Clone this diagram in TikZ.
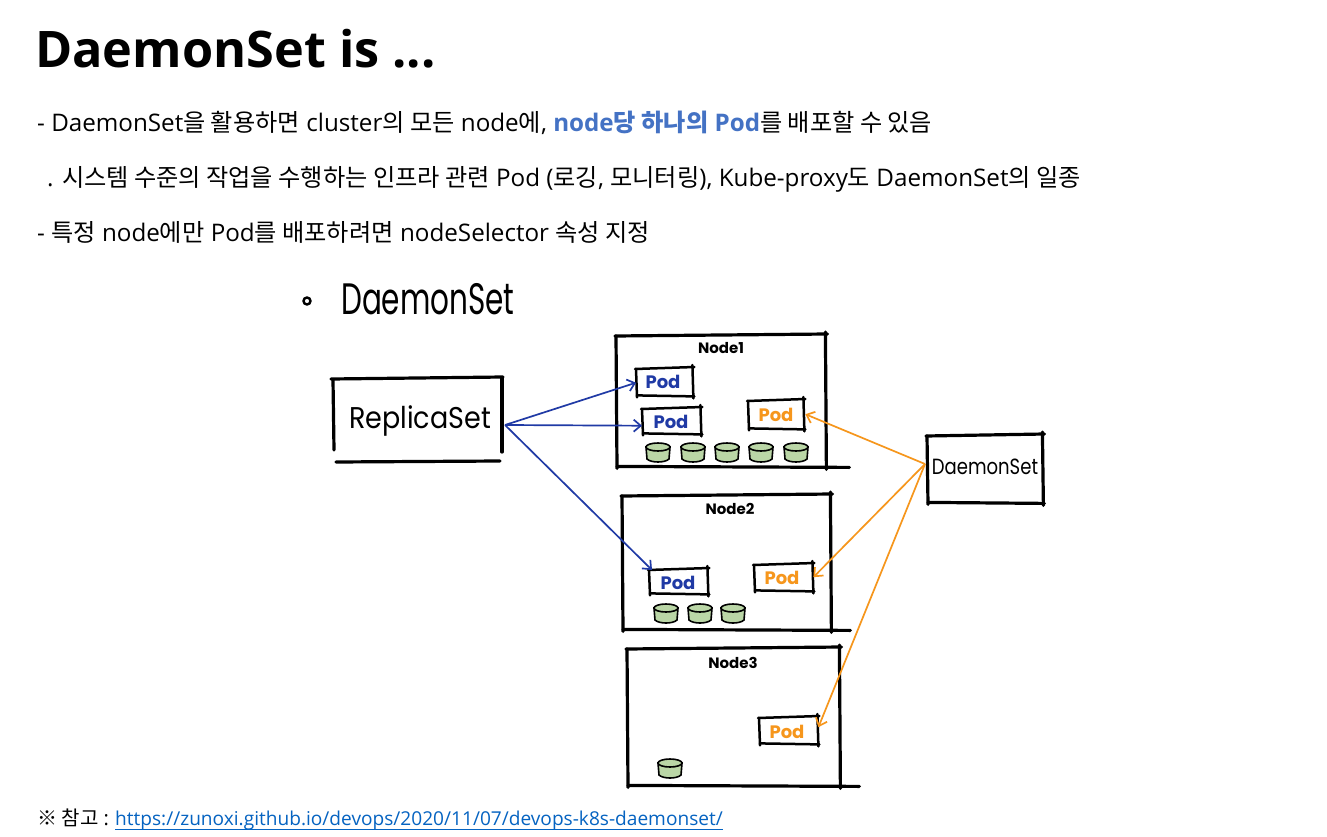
\documentclass[tikz,border=0pt]{standalone}
\usepackage{fontspec}
\setmainfont{Open Sans}
\newfontfamily\kor{Noto Sans CJK KR}
\newfontfamily\handfont{Poppins}
\usetikzlibrary{arrows.meta,calc}

\definecolor{hlblue}{RGB}{68,114,196}
\definecolor{linkblue}{RGB}{5,99,193}
\definecolor{rsblue}{RGB}{32,58,165}
\definecolor{dsorange}{RGB}{246,150,28}
\definecolor{cylgreen}{RGB}{186,214,166}

% Korean runs are set in the CJK family, Latin runs in the main family
\newcommand{\ko}[1]{{\kor #1}}
% narrow, tall lettering for the marker-style labels
\newcommand{\narrow}[2]{\scalebox{#1}[1]{#2}}

\tikzset{
  body/.style={anchor=base west, inner sep=0pt, font=\fontsize{24.2}{28}\selectfont},
  frame/.style={draw=none, inner sep=0pt, anchor=north west},
  sketch/.style={line width=3.2pt, line cap=round, black},
  podline/.style={line width=2.5pt, line cap=round, black},
  handlbl/.style={font=\handfont\fontsize{#1}{#1}\selectfont, inner sep=0pt},
  nodelbl/.style={font=\handfont\bfseries\fontsize{15}{15}\selectfont, inner sep=0pt},
  podlbl/.style={font=\handfont\bfseries\fontsize{18}{18}\selectfont, inner sep=0pt},
  rsarrow/.style={rsblue, line width=1.7pt, -{Straight Barb[length=7pt,width=12pt,line width=1.7pt]}},
  dsarrow/.style={dsorange, line width=1.7pt, -{Straight Barb[length=7pt,width=12pt,line width=1.7pt]}},
  cyl/.pic={
    \filldraw[fill=cylgreen, draw=black, line width=1.6pt]
      (-12,-5) -- (-11,7) .. controls (-7,11) and (7,11) .. (11,7) -- (12,-5) -- cycle;
    \filldraw[fill=cylgreen, draw=black, line width=1.6pt] (0,-5) ellipse [x radius=12, y radius=4];
  }
}

% a hand-drawn looking frame: four strokes with small overshoots
\newcommand{\sketchframe}[3]{%
  \draw[#2] ($(#1.north west)+(-1,1)$) -- ($(#1.north east)+(2,-1)$);
  \draw[#2] ($(#1.north east)+(0,-3)$) -- ($(#1.south east)+(1,3)$);
  \draw[#2] ($(#1.south west)+(1,0)$) -- ($(#1.south east)+(#3,1)$);
  \draw[#2] ($(#1.north west)+(0,1)$) -- ($(#1.south west)+(1,2)$);
}

\begin{document}
\begin{tikzpicture}[x=1pt,y=-1pt]
\useasboundingbox[fill=white] (0,0) rectangle (1327,837);

% heading and bullet text
\node[anchor=base west, inner sep=0pt, font=\bfseries\fontsize{50.4}{56}\selectfont] (title) at (35,68) {DaemonSet is ...};
\node[body] (l1) at (37,132) {- DaemonSet\ko{을 활용하면} cluster\ko{의 모든} node\ko{에}, {\bfseries\color{hlblue}node\ko{당 하나의} Pod}\ko{를 배포할 수 있음}};
\node[body] (l2) at (47,187) {. \ko{시스템 수준의 작업을 수행하는 인프라 관련} Pod (\ko{로깅}, \ko{모니터링}), Kube-proxy\ko{도} DaemonSet\ko{의 일종}};
\node[body] (l3) at (37,241) {- \ko{특정} node\ko{에만} Pod\ko{를 배포하려면} nodeSelector \ko{속성 지정}};

% reference link
\node[anchor=base west, inner sep=0pt, font=\fontsize{20}{24}\selectfont] (ref) at (37,825) {\ko{※ 참고} :};
\node[anchor=base west, inner sep=0pt, font=\fontsize{19.1}{23}\selectfont, text=linkblue] (url) at (115,825) {https://zunoxi.github.io/devops/2020/11/07/devops-k8s-daemonset/};
\draw[linkblue, line width=0.8pt] ($(url.base west)+(0,4)$) -- ($(url.base east)+(0,4)$);

% sketch title
\draw[line width=2.4pt] (307,301) circle [radius=3.5];
\node[handlbl=44, anchor=west] (sketchtitle) at (341,299) {\narrow{0.67}{DaemonSet}};

% ReplicaSet controller
\node[frame, minimum width=169pt, minimum height=74pt] (rs) at (333,378) {};
\draw[sketch] (331,379) -- (503,377);
\draw[sketch] (502,378) -- (502,452);
\draw[sketch] (333,380) -- (334,450);
\draw[sketch] (336,462) -- (500,461);
\node[handlbl=30] (rslbl) at (420,421) {\narrow{0.9}{ReplicaSet}};

% DaemonSet controller
\node[frame, minimum width=115pt, minimum height=67pt] (ds) at (927,435) {};
\sketchframe{ds}{sketch}{2}
\node[handlbl=22] (dslbl) at (985,467) {\narrow{0.82}{DaemonSet}};

% worker nodes
\node[frame, minimum width=209pt, minimum height=131pt] (n1) at (616,335) {};
\sketchframe{n1}{sketch}{24}
\node[nodelbl] at (721,348) {Node1};

\node[frame, minimum width=208pt, minimum height=134pt] (n2) at (622,495) {};
\sketchframe{n2}{sketch}{20}
\node[nodelbl] at (730,509) {Node2};

\node[frame, minimum width=212pt, minimum height=137pt] (n3) at (627,648) {};
\sketchframe{n3}{sketch}{20}
\node[nodelbl] at (733,663) {Node3};

% pods
\node[frame, minimum width=56pt, minimum height=27pt] (p1a) at (636,368) {};
\sketchframe{p1a}{podline}{2}
\node[podlbl, text=rsblue] at (663,382) {Pod};
\node[frame, minimum width=58pt, minimum height=25pt] (p1b) at (642,408) {};
\sketchframe{p1b}{podline}{2}
\node[podlbl, text=rsblue] at (671,422) {Pod};
\node[frame, minimum width=55pt, minimum height=28pt] (p1c) at (748,400) {};
\sketchframe{p1c}{podline}{2}
\node[podlbl, text=dsorange] at (776,415) {Pod};

\node[frame, minimum width=58pt, minimum height=24pt] (p2a) at (649,569) {};
\sketchframe{p2a}{podline}{2}
\node[podlbl, text=rsblue] at (678,583) {Pod};
\node[frame, minimum width=58pt, minimum height=26pt] (p2b) at (754,564) {};
\sketchframe{p2b}{podline}{2}
\node[podlbl, text=dsorange] at (782,578) {Pod};

\node[frame, minimum width=58pt, minimum height=26pt] (p3a) at (759,717) {};
\sketchframe{p3a}{podline}{2}
\node[podlbl, text=dsorange] at (787,732) {Pod};

% volumes
\foreach \x in {658,693,727,761,796} \pic at (\x,452) {cyl};
\foreach \x in {666,700,733} \pic at (\x,613) {cyl};
\pic at (670,768) {cyl};

% ReplicaSet places pods anywhere
\coordinate (rsout) at (505,425);
\draw[rsarrow] (rsout) -- ($(p1a.west)+(0,1)$);
\draw[rsarrow] (rsout) -- ($(p1b.west)+(0,5)$);
\draw[rsarrow] (rsout) -- ($(p2a.north west)+(3,1)$);

% DaemonSet places one pod per node
\coordinate (dsout) at (925,464);
\draw[dsarrow] (dsout) -- ($(p1c.east)+(2,0)$);
\draw[dsarrow] (dsout) -- ($(p2b.east)+(1,0)$);
\draw[dsarrow] (dsout) -- ($(p3a.east)+(1,-3)$);
\end{tikzpicture}
\end{document}
